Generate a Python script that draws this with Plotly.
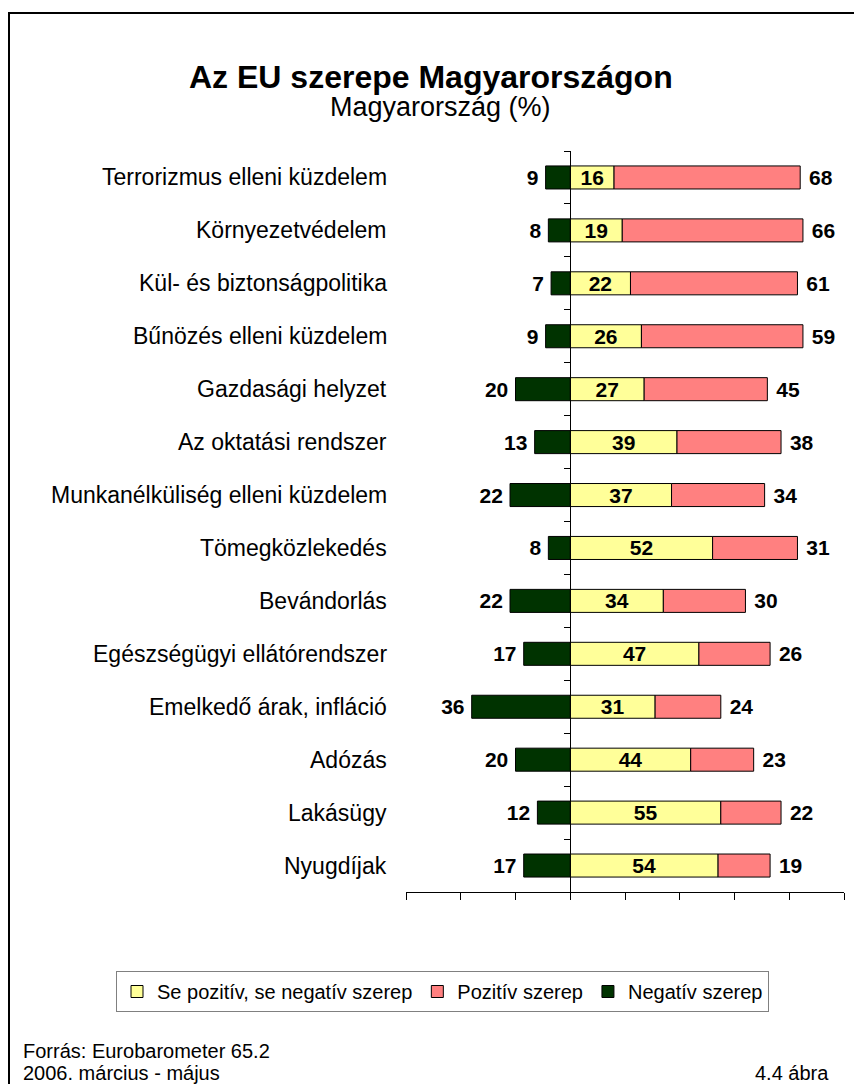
import plotly.graph_objects as go

# Adatok (Eurobarometer 65.2, Magyarország, %)
kategoriak = [
    "Terrorizmus elleni küzdelem",
    "Környezetvédelem",
    "Kül- és biztonságpolitika",
    "Bűnözés elleni küzdelem",
    "Gazdasági helyzet",
    "Az oktatási rendszer",
    "Munkanélküliség elleni küzdelem",
    "Tömegközlekedés",
    "Bevándorlás",
    "Egészségügyi ellátórendszer",
    "Emelkedő árak, infláció",
    "Adózás",
    "Lakásügy",
    "Nyugdíjak",
]
semleges = [16, 19, 22, 26, 27, 39, 37, 52, 34, 47, 31, 44, 55, 54]
pozitiv = [68, 66, 61, 59, 45, 38, 34, 31, 30, 26, 24, 23, 22, 19]
negativ = [9, 8, 7, 9, 20, 13, 22, 8, 22, 17, 36, 20, 12, 17]
x_tartomany = [-60, 100]

FONT = "Liberation Sans, Arial, sans-serif"
OFF = 8  # a böngésző body margója
W, H = 862 - OFF, 1084 - OFF
# a rajzterület helye a képen (képpont)
X0, X1, Y0, Y1 = 406, 844, 151, 892
ML, MR, MT, MB = X0 - OFF, W - (X1 - OFF), Y0 - OFF, H - (Y1 - OFF)
pw, ph = X1 - X0, Y1 - Y0


def px_x(p):
    return (p - X0) / pw


def px_y(p):
    return (Y1 - p) / ph


val_font = dict(family=FONT, size=21, color="black")

fig = go.Figure()
fig.add_trace(go.Bar(
    y=kategoriak, x=semleges, orientation="h", name="Se pozitív, se negatív szerep",
    marker=dict(color="#FFFF99", line=dict(color="black", width=1)),
    text=[f"<b>{v}</b>" for v in semleges], textposition="inside",
    insidetextanchor="middle", textfont=val_font, constraintext="none",
))
fig.add_trace(go.Bar(
    y=kategoriak, x=pozitiv, orientation="h", name="Pozitív szerep",
    marker=dict(color="#FF8080", line=dict(color="black", width=1)),
    text=[f"\u00a0<b>{v}</b>" for v in pozitiv], textposition="outside",
    textfont=val_font, cliponaxis=False, constraintext="none",
))
fig.add_trace(go.Bar(
    y=kategoriak, x=[-v for v in negativ], orientation="h", name="Negatív szerep",
    marker=dict(color="#003300", line=dict(color="black", width=1)),
    text=[f"<b>{v}</b>\u2009" for v in negativ], textposition="outside",
    textfont=val_font, cliponaxis=False, constraintext="none",
))

# kategória feliratok a bal oldalon
for k in kategoriak:
    fig.add_annotation(x=0, xref="paper", y=k, yref="y", text=k, showarrow=False,
                       xanchor="right", xshift=-17, font=dict(family=FONT, size=23, color="black"))


def szoveg(x, y, text, size, anchor="center", bold=False):
    fig.add_annotation(x=px_x(x), y=px_y(y), xref="paper", yref="paper", showarrow=False,
                       xanchor=anchor, yanchor="middle",
                       text=f"<b>{text}</b>" if bold else text,
                       font=dict(family=FONT, size=size, color="black"))


szoveg(431, 77, "Az EU szerepe Magyarországon", 32, bold=True)
szoveg(440, 107, "Magyarország (%)", 27)
szoveg(21, 1051, "Forrás: Eurobarometer 65.2", 20, "left")
szoveg(21, 1073, "2006. március - május", 20, "left")
szoveg(831, 1073, "4.4 ábra", 20, "right")

# keret
fig.add_shape(type="rect", xref="paper", yref="paper",
              x0=px_x(9), x1=px_x(880), y0=px_y(1100), y1=px_y(13),
              line=dict(color="black", width=2))

nulla = (0 - x_tartomany[0]) / (x_tartomany[1] - x_tartomany[0])

fig.update_layout(
    width=W, height=H, barmode="relative", bargap=0.565,
    margin=dict(l=ML, r=MR, t=MT, b=MB),
    paper_bgcolor="white", plot_bgcolor="white",
    font=dict(family=FONT, size=20, color="black"),
    xaxis=dict(range=x_tartomany, dtick=20, tick0=0, showticklabels=False, ticks="outside",
               ticklen=7, tickcolor="black", showline=True, linecolor="black", linewidth=1,
               showgrid=False, zeroline=False, fixedrange=True),
    yaxis=dict(autorange="reversed", anchor="free", position=nulla, showticklabels=False,
               ticks="outside", ticklen=6, tickcolor="black", tickson="boundaries",
               showline=True, linecolor="black", linewidth=1, showgrid=False),
    legend=dict(orientation="h", x=px_x(116), xanchor="left",
                y=px_y(971), yanchor="top", bordercolor="#808080", borderwidth=1,
                font=dict(family=FONT, size=20, color="black"), itemwidth=30,
                traceorder="normal", tracegroupgap=0),
    showlegend=True,
)

fig.write_html("out.html")
